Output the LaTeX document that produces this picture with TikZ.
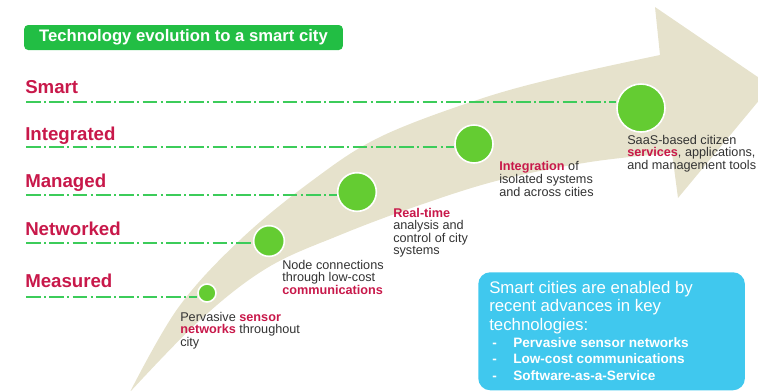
\documentclass[tikz,border=0pt]{standalone}
\usepackage{fontspec}
\setmainfont{Liberation Sans}
\usepackage{tikz}
\usetikzlibrary{positioning}
\definecolor{beige}{RGB}{230,226,204}
\definecolor{crimson}{RGB}{200,24,74}
\definecolor{leaf}{RGB}{100,204,50}
\definecolor{dashgreen}{RGB}{60,204,90}
\definecolor{titlegreen}{RGB}{34,190,68}
\definecolor{sky}{RGB}{64,200,238}
\newcommand{\keyw}[1]{{\color{crimson}\bfseries #1}}

\begin{document}
\begin{tikzpicture}[line cap=round,line join=round,x=0.75pt,y=0.75pt,
      level/.style={anchor=base west,inner sep=0pt,text=crimson,font=\fontsize{14}{16}\selectfont\bfseries},
      stage/.style={circle,fill=leaf,draw=white,line width=1.2pt,inner sep=0pt},
      levelline/.style={dashgreen,line width=1pt,line cap=butt,dash pattern=on 11pt off 2.5pt on 1.5pt off 2.5pt},
      desc/.style={anchor=north west,inner sep=0pt,align=left,text=black!80,font=\fontsize{9.5}{8.8}\selectfont},
      titlebox/.style={rectangle,rounded corners=3pt,fill=titlegreen,text=white,minimum width=239pt,minimum height=18.75pt,font=\fontsize{12.5}{14}\selectfont\bfseries},
      enabler/.style={rectangle,rounded corners=9pt,fill=sky,minimum width=200pt,minimum height=88.5pt},
      boxhead/.style={anchor=north west,inner sep=0pt,align=left,text=white,font=\fontsize{12.6}{13.9}\selectfont},
      boxitem/.style={anchor=base west,inner sep=0pt,text=white,font=\fontsize{10.2}{12}\selectfont\bfseries}]
      \useasboundingbox (0,0) rectangle (758,-390);
      \begin{scope}
      \clip (0,0) rectangle (758,-390);
      \fill[beige] plot[smooth,tension=0.6] coordinates {(130,-392) (178,-308) (240,-240) (313,-180) (380,-137) (477,-100) (560,-77) (660,-55)}
        -- (655,-7) -- (771,-86) -- (678,-198)
        -- plot[smooth,tension=0.6] coordinates {(672,-153) (590,-162) (500,-180) (420,-205) (340,-235) (267,-268) (200,-320) (130,-392)} -- cycle;
      \end{scope}
      \node[titlebox] (title) at (183.5,-37.5) {Technology evolution to a smart city};
      \foreach \px/\py/\d [count=\i] in {207/293/13.5, 269/241/23, 357/192/29, 474/144/28.5, 641/108/36}
      \node[stage,minimum size=\d pt] (c\i) at (\px,-\py) {};
      \foreach \name/\by/\ly [count=\i] in {Measured/287/297, Networked/235/243, Managed/187/195, Integrated/140/147, Smart/93/102}
      {
        \node[level] (lev\i) at (25,-\by) {\name};
        \coordinate (ls\i) at (26,-\ly);
        \draw[levelline] (ls\i) -- (ls\i -| c\i.west);
      }
      \node[desc] (d1) at (180,-312) {Pervasive \keyw{sensor}\\\keyw{networks} throughout\\city};
      \node[desc] (d2) at (282,-260) {Node connections\\through low-cost\\\keyw{communications}};
      \node[desc] (d3) at (393,-208) {\keyw{Real-time}\\analysis and\\control of city\\systems};
      \node[desc] (d4) at (499,-161) {\keyw{Integration} of\\isolated systems\\and across cities};
      \node[desc] (d5) at (627,-135) {SaaS-based citizen\\\keyw{services}, applications,\\and management tools};
      \node[enabler,anchor=north west] (box) at (478,-272) {};
      \node[boxhead] (boxtext) at (489,-281) {Smart cities are enabled by\\recent advances in key\\technologies:};
      \foreach \txt [count=\i] in {Pervasive sensor networks, Low-cost communications, Software-as-a-Service}
      {
        \node[boxitem] (bul\i) at (492,-330.5-16.5*\i) {-};
        \node[boxitem] (item\i) at (513,-330.5-16.5*\i) {\txt};
      }
\end{tikzpicture}
\end{document}
